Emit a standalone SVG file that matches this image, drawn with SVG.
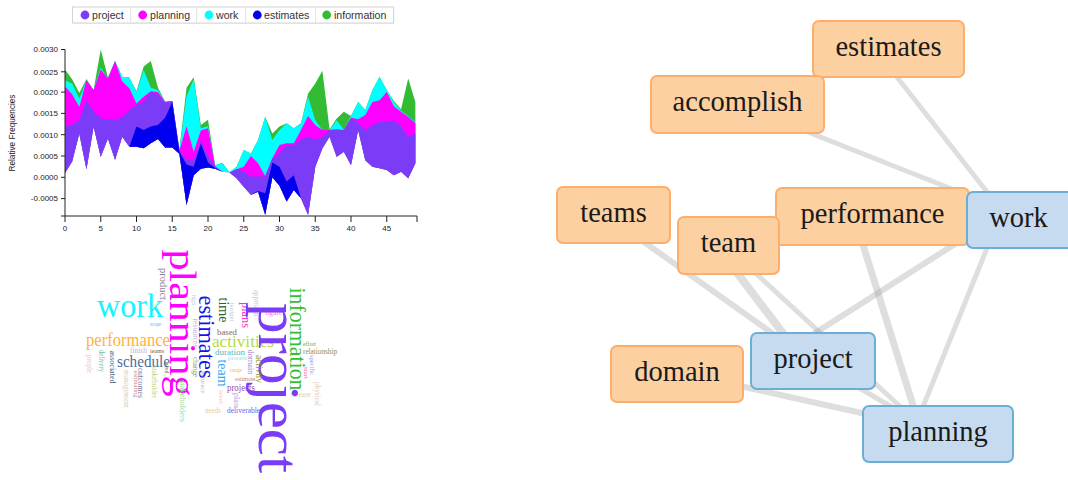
<svg xmlns="http://www.w3.org/2000/svg" width="1068" height="480" viewBox="0 0 1068 480">
<style>
.ax{stroke:#222;stroke-width:1;fill:none}
.tk{font-family:"Liberation Sans",Arial,sans-serif;font-size:8px;fill:#222}
.lg{font-family:"Liberation Sans",Arial,sans-serif;font-size:10.6px;fill:#333}
.wc text{font-family:"Liberation Serif","Times New Roman",serif}
.v{text-anchor:middle}
.edge{stroke:#999;stroke-opacity:0.32;fill:none;stroke-linecap:butt}
.on rect{fill:#fdd0a2;stroke:#fdae6b;stroke-width:2}
.bn rect{fill:#c6dbef;stroke:#6baed6;stroke-width:2}
.nl{font-family:"Liberation Serif","Times New Roman",serif;font-size:28.5px;fill:#1a1a1a;text-anchor:middle}
</style>
<rect width="1068" height="480" fill="#fff"/>

<!-- legend -->
<g id="legend">
<rect x="73.5" y="8" width="321" height="16" fill="#000" opacity="0.06"/>
<rect x="72.5" y="7" width="321" height="16" fill="#fff" stroke="#d4d4d4"/>
<path d="M130.7 7v16M196.7 7v16M245.7 7v16M315.7 7v16" stroke="#e2e2e2"/>
<circle cx="85" cy="15" r="4.4" fill="#7b3cf7"/><text class="lg" x="92" y="18.8">project</text>
<circle cx="142.7" cy="15" r="4.4" fill="#ff00ff"/><text class="lg" x="150" y="18.8">planning</text>
<circle cx="209" cy="15" r="4.4" fill="#00ffff"/><text class="lg" x="216" y="18.8">work</text>
<circle cx="257.3" cy="15" r="4.4" fill="#0000ee"/><text class="lg" x="264" y="18.8">estimates</text>
<circle cx="326.7" cy="15" r="4.4" fill="#33bb33"/><text class="lg" x="334" y="18.8">information</text>
</g>

<!-- streamgraph -->
<g id="streamgraph">
<g transform="translate(65,177.3) scale(7.15,-4.26)">
<path fill="#33bb33" d="M0,25.3 1,23 2,19.8 3,23.1 4,20.5 5,30 6,23.4 7,27.3 8,23.6 9,23.4 10,20.2 11,26 12,27.3 13,21 14,17.8 15,17.9 16,6.5 17,21 18,23.5 19,12.3 20,13.5 21,2.8 22,3.4 23,1.2 24,2.5 25,6.4 26,5.6 27,8.75 28,14.2 29,10.3 30,11.9 31,12.7 32,11.5 33,12.7 34,19.7 35,22 36,25 37,11.3 38,13.8 39,15.4 40,14.4 41,17.7 42,15.8 43,20.5 44,23.6 45,20.5 46,17.9 47,16 48,23.2 49,17.7 L49,3.3 48,-0.2 47,1.3 46,0.5 45,1.7 44,2.1 43,2.5 42,4 41,11.1 40,2.9 39,6 38,4.8 37,9.5 36,6.8 35,2.5 34,-8.8 33,-4.9 32,-3 31,-5.7 30,-2 29,0 28,-8.8 27,-3.4 26,-4.1 25,-2.2 24,-0.2 23,1.1 22,1.3 21,2 20,2.3 19,2 18,0.5 17,-6.5 16,5.5 15,7 14,7 13,9 12,8 11,6.8 10,7.2 9,7.2 8,9.5 7,4.1 6,9.1 5,4.8 4,11.9 3,1.9 2,10.3 1,3.7 0,1Z"/>
<path fill="#00ffff" d="M0,22.8 1,22 2,18.5 3,22.8 4,20.5 5,25.8 6,23.2 7,27.3 8,23.6 9,23.4 10,20 11,25.2 12,21 13,20.5 14,17.7 15,17.9 16,6.5 17,19 18,23 19,11.5 20,12 21,2.8 22,3.4 23,1.2 24,2.5 25,6.4 26,5.6 27,8.75 28,14.2 29,8.75 30,11.1 31,12.7 32,11.5 33,12.7 34,18.9 35,13.4 36,11.1 37,11.1 38,13.4 39,11.1 40,14.4 41,17.7 42,15.8 43,20.5 44,23.6 45,20.5 46,17.7 47,15.6 48,14.4 49,12.9 L49,3.3 48,-0.2 47,1.3 46,0.5 45,1.7 44,2.1 43,2.5 42,4 41,11.1 40,2.9 39,6 38,4.8 37,9.5 36,6.8 35,2.5 34,-8.8 33,-4.9 32,-3 31,-5.7 30,-2 29,0 28,-8.8 27,-3.4 26,-4.1 25,-2.2 24,-0.2 23,1.1 22,1.3 21,2 20,2.3 19,2 18,0.5 17,-6.5 16,5.5 15,7 14,7 13,9 12,8 11,6.8 10,7.2 9,7.2 8,9.5 7,4.1 6,9.1 5,4.8 4,11.9 3,1.9 2,10.3 1,3.7 0,1Z"/>
<path fill="#ff00ff" d="M0,21.3 1,19.5 2,16.5 3,22.8 4,20.5 5,25.3 6,23.2 7,27.3 8,22.5 9,20.9 10,17.3 11,18.9 12,20.2 13,20 14,17.7 15,17.9 16,6.3 17,12 18,6 19,11 20,11.5 21,2.6 22,1.3 23,1.1 24,1.9 25,2.5 26,5 27,3.3 28,0.3 29,4.5 30,7.6 31,8 32,8 33,11.1 34,14.4 35,12.3 36,11.1 37,11.1 38,11.25 39,11.1 40,14 41,13.6 42,14.6 43,17.7 44,18.1 45,20 46,16.6 47,15.4 48,14.2 49,12.7 L49,3.3 48,-0.2 47,1.3 46,0.5 45,1.7 44,2.1 43,2.5 42,4 41,11.1 40,2.9 39,6 38,4.8 37,9.5 36,6.8 35,2.5 34,-8.8 33,-4.9 32,-3 31,-5.7 30,-2 29,0 28,-8.8 27,-3.4 26,-4.1 25,-2.2 24,-0.2 23,1.1 22,1.3 21,2 20,2.3 19,2 18,0.5 17,-6.5 16,5.5 15,7 14,7 13,9 12,8 11,6.8 10,7.2 9,7.2 8,9.5 7,4.1 6,9.1 5,4.8 4,11.9 3,1.9 2,10.3 1,3.7 0,1Z"/>
<path fill="#7b3cf7" d="M0,11.9 1,12.3 2,13.4 3,18.1 4,15.4 5,13.8 6,13.6 7,13.4 8,14.1 9,15.8 10,17 11,17.7 12,20 13,19.5 14,17.5 15,17.9 16,6.3 17,4 18,4 19,8.5 20,5 21,2.5 22,1.3 23,1.1 24,1.9 25,1.3 26,0.2 27,0.2 28,0.2 29,4.5 30,5.6 31,7.6 32,7.6 33,8.75 34,9.5 35,8.75 36,9.5 37,11.1 38,11.25 39,11.1 40,13.8 41,12.7 42,11.1 43,12.3 44,13 45,13 46,13.4 47,11.9 48,9.5 49,10.3 L49,3.3 48,-0.2 47,1.3 46,0.5 45,1.7 44,2.1 43,2.5 42,4 41,11.1 40,2.9 39,6 38,4.8 37,9.5 36,6.8 35,2.5 34,-8.8 33,-4.9 32,-3 31,-5.7 30,-2 29,0 28,-8.8 27,-3.4 26,-4.1 25,-2.2 24,-0.2 23,1.1 22,1.3 21,2 20,2.3 19,2 18,0.5 17,-6.5 16,5.5 15,7 14,7 13,9 12,8 11,6.8 10,7.2 9,7.2 8,9.5 7,4.1 6,9.1 5,4.8 4,11.9 3,1.9 2,10.3 1,3.7 0,1Z"/>
<path fill="#0000ee" d="M9,7.2 10,11.9 11,11.1 12,11.9 13,12.3 14,14 15,17.7 16,6 17,3 18,2.5 19,8 20,3.5 21,2.2 22,1.3 23,1.1 24,-0.2 25,-2.2 26,-4.1 27,-3.2 28,-3.75 29,3.5 30,2.5 31,-1 32,0.5 33,-4.9 L32,-3 31,-5.7 30,-2 29,0 28,-8.8 27,-3.4 26,-4.1 25,-2.2 24,-0.2 23,1.1 22,1.3 21,2 20,2.3 19,2 18,0.5 17,-6.5 16,5.5 15,7 14,7 13,9 12,8 11,6.8 10,7.2Z"/>
</g>
<path class="ax" d="M61,49.5H65V216H61"/>
<path class="ax" d="M65,222V216H417V222"/>
<path class="ax" d="M61,71.8H65M61,92.1H65M61,113.4H65M61,134.7H65M61,156H65M61,177.3H65M61,198.6H65M100.75,216v6M136.5,216v6M172.25,216v6M208,216v6M243.75,216v6M279.5,216v6M315.25,216v6M351,216v6M386.75,216v6"/>
<g class="tk" text-anchor="end">
<text x="58" y="52.3">0.0030</text><text x="58" y="74.6">0.0025</text><text x="58" y="94.9">0.0020</text><text x="58" y="116.2">0.0015</text><text x="58" y="137.5">0.0010</text><text x="58" y="158.8">0.0005</text><text x="58" y="180.1">0.0000</text><text x="58" y="201.4">-0.0005</text>
</g>
<g class="tk" text-anchor="middle">
<text x="65" y="231">0</text><text x="100.75" y="231">5</text><text x="136.5" y="231">10</text><text x="172.25" y="231">15</text><text x="208" y="231">20</text><text x="243.75" y="231">25</text><text x="279.5" y="231">30</text><text x="315.25" y="231">35</text><text x="351" y="231">40</text><text x="386.75" y="231">45</text>
</g>
<text class="tk" style="font-size:8.2px" text-anchor="middle" transform="translate(15,133) rotate(-90)">Relative Frequencies</text>
</g>

<!-- word cloud -->
<g id="wordcloud" class="wc">
<text x="97" y="317" font-size="33" fill="#14f4fc" textLength="66" lengthAdjust="spacingAndGlyphs">work</text>
<text x="86" y="346" font-size="18" fill="#ffb23c" textLength="84" lengthAdjust="spacingAndGlyphs">performance</text>
<text x="117" y="367" font-size="16" fill="#4c6c9c" textLength="53" lengthAdjust="spacingAndGlyphs">schedule</text>
<text x="150" y="326" font-size="5.5" fill="#5cb4f4" textLength="11" lengthAdjust="spacingAndGlyphs">scope</text>
<text x="130" y="353" font-size="7.5" fill="#ccaadc" textLength="17" lengthAdjust="spacingAndGlyphs">finish</text>
<text x="150" y="353" font-size="6.5" fill="#7c5c2c" textLength="14" lengthAdjust="spacingAndGlyphs">teams</text>
<text x="176" y="360" font-size="6" fill="#c4bcb4" textLength="9" lengthAdjust="spacingAndGlyphs">cost</text>
<text x="217" y="335" font-size="9" fill="#8c6c3c" textLength="20" lengthAdjust="spacingAndGlyphs">based</text>
<text x="212" y="347" font-size="16" fill="#b4dc3c" textLength="62" lengthAdjust="spacingAndGlyphs">activities</text>
<text x="215" y="354.5" font-size="9" fill="#54b4bc" textLength="30" lengthAdjust="spacingAndGlyphs">duration</text>
<text x="228" y="360" font-size="6.5" fill="#84e4f4" textLength="19" lengthAdjust="spacingAndGlyphs">process</text>
<text x="230" y="372" font-size="6.5" fill="#ffb454" textLength="12" lengthAdjust="spacingAndGlyphs">range</text>
<text x="235" y="381" font-size="7" fill="#c48484" textLength="20" lengthAdjust="spacingAndGlyphs">estimate</text>
<text x="227" y="391" font-size="10" fill="#9c4cac" textLength="28" lengthAdjust="spacingAndGlyphs">projects</text>
<text x="205" y="413" font-size="7.5" fill="#ecca9c" textLength="16" lengthAdjust="spacingAndGlyphs">needs</text>
<text x="227" y="413" font-size="8" fill="#6464e4" textLength="36" lengthAdjust="spacingAndGlyphs">deliverables</text>
<text x="265" y="315" font-size="7.5" fill="#f474d4" textLength="17" lengthAdjust="spacingAndGlyphs">figure</text>
<text x="303" y="346" font-size="6.5" fill="#84a424" textLength="13" lengthAdjust="spacingAndGlyphs">effort</text>
<text x="303" y="354" font-size="7.5" fill="#8c8c54" textLength="34" lengthAdjust="spacingAndGlyphs">relationship</text>
<text x="291" y="397" font-size="7.5" fill="#e4cca4" textLength="20" lengthAdjust="spacingAndGlyphs">release</text>

<text class="v" transform="translate(170,323) rotate(90)" font-size="37" fill="#ff00ff" textLength="147" lengthAdjust="spacingAndGlyphs">planning</text>
<text class="v" transform="translate(160,284) rotate(90)" font-size="11" fill="#8a7a9a" textLength="32" lengthAdjust="spacingAndGlyphs">product</text>
<text class="v" transform="translate(192,300) rotate(90)" font-size="6" fill="#b8cde0" textLength="10" lengthAdjust="spacingAndGlyphs">high</text>
<text class="v" transform="translate(198.5,337) rotate(90)" font-size="23" fill="#1515ea" textLength="83" lengthAdjust="spacingAndGlyphs">estimates</text>
<text class="v" transform="translate(193,333) rotate(90)" font-size="7.7" fill="#c4b4d4" textLength="29" lengthAdjust="spacingAndGlyphs">resources</text>
<text class="v" transform="translate(87,364) rotate(90)" font-size="7.5" fill="#f4b8c8" textLength="18" lengthAdjust="spacingAndGlyphs">people</text>
<text class="v" transform="translate(98.5,361) rotate(90)" font-size="7.5" fill="#6cbcb4" textLength="22" lengthAdjust="spacingAndGlyphs">delivery</text>
<text class="v" transform="translate(110,367) rotate(90)" font-size="8.5" fill="#4c5c80" textLength="33" lengthAdjust="spacingAndGlyphs">associated</text>
<text class="v" transform="translate(138,383) rotate(90)" font-size="8.5" fill="#8474a4" textLength="30" lengthAdjust="spacingAndGlyphs">outcomes</text>
<text class="v" transform="translate(133.5,384) rotate(90)" font-size="7" fill="#d08a80" textLength="27" lengthAdjust="spacingAndGlyphs">estimating</text>
<text class="v" transform="translate(124,389) rotate(90)" font-size="7.5" fill="#d8d0b4" textLength="38" lengthAdjust="spacingAndGlyphs">management</text>
<text class="v" transform="translate(152,382) rotate(90)" font-size="7.3" fill="#c4d474" textLength="32" lengthAdjust="spacingAndGlyphs">stakeholder</text>
<text class="v" transform="translate(165,368) rotate(90)" font-size="6.5" fill="#8c6c48" textLength="11" lengthAdjust="spacingAndGlyphs">need</text>
<text class="v" transform="translate(192.5,367) rotate(90)" font-size="7.3" fill="#84a474" textLength="20" lengthAdjust="spacingAndGlyphs">change</text>
<text class="v" transform="translate(200.5,382) rotate(90)" font-size="7" fill="#bab4c4" textLength="23" lengthAdjust="spacingAndGlyphs">accuracy</text>
<text class="v" transform="translate(179.5,401) rotate(90)" font-size="8.6" fill="#96dc96" textLength="42" lengthAdjust="spacingAndGlyphs">stakeholders</text>
<text class="v" transform="translate(254,303) rotate(90)" font-size="7.5" fill="#dccab4" textLength="27" lengthAdjust="spacingAndGlyphs">approach</text>
<text class="v" transform="translate(229.5,312) rotate(90)" font-size="7" fill="#b4cce0" textLength="19" lengthAdjust="spacingAndGlyphs">budget</text>
<text class="v" transform="translate(219,310) rotate(90)" font-size="15" fill="#2e5e34" textLength="25" lengthAdjust="spacingAndGlyphs">time</text>
<text class="v" transform="translate(241.5,315) rotate(90)" font-size="13" fill="#ff2ec4" textLength="26" lengthAdjust="spacingAndGlyphs">plans</text>
<text class="v" transform="translate(259,388) rotate(90)" font-size="59" fill="#7b3cf7" textLength="170" lengthAdjust="spacingAndGlyphs">project</text>
<text class="v" transform="translate(247.5,362) rotate(90)" font-size="8.5" fill="#a878c8" textLength="25" lengthAdjust="spacingAndGlyphs">domain</text>
<text class="v" transform="translate(255.5,369) rotate(90)" font-size="9.5" fill="#949444" textLength="28" lengthAdjust="spacingAndGlyphs">activity</text>
<text class="v" transform="translate(217.5,373) rotate(90)" font-size="14" fill="#35a5f5" textLength="27" lengthAdjust="spacingAndGlyphs">team</text>
<text class="v" transform="translate(218.5,397) rotate(90)" font-size="7" fill="#f4bccc" textLength="14" lengthAdjust="spacingAndGlyphs">level</text>
<text class="v" transform="translate(234,400) rotate(90)" font-size="7.5" fill="#bca4dc" textLength="14" lengthAdjust="spacingAndGlyphs">plan</text>
<text class="v" transform="translate(290,339) rotate(90)" font-size="23" fill="#33c033" textLength="103" lengthAdjust="spacingAndGlyphs">information</text>
<text class="v" transform="translate(310,365) rotate(90)" font-size="6.8" fill="#9494f4" textLength="20" lengthAdjust="spacingAndGlyphs">specific</text>
<text class="v" transform="translate(303.5,373) rotate(90)" font-size="7" fill="#ff64a4" textLength="12" lengthAdjust="spacingAndGlyphs">start</text>
<text class="v" transform="translate(315,394) rotate(90)" font-size="7.5" fill="#dccab8" textLength="24" lengthAdjust="spacingAndGlyphs">physical</text>
</g>

<!-- connectors -->
<g id="connectors">
<line class="edge" x1="875" y1="49" x2="1009" y2="220" stroke-width="5"/>
<line class="edge" x1="737" y1="104" x2="1010" y2="212" stroke-width="5"/>
<line class="edge" x1="613" y1="220" x2="800" y2="353" stroke-width="6"/>
<line class="edge" x1="716" y1="245" x2="804" y2="361" stroke-width="8"/>
<line class="edge" x1="725" y1="245" x2="930" y2="434" stroke-width="5"/>
<line class="edge" x1="1010" y1="209" x2="790" y2="349" stroke-width="6"/>
<line class="edge" x1="854" y1="216" x2="922" y2="434" stroke-width="7"/>
<line class="edge" x1="1000" y1="216" x2="912" y2="434" stroke-width="5"/>
<line class="edge" x1="677" y1="372" x2="938" y2="430" stroke-width="6"/>
<line class="edge" x1="813" y1="361" x2="938" y2="434" stroke-width="5"/>
</g>

<!-- nodes -->
<g id="node-estimates" class="on"><rect x="813" y="21" width="151" height="56" rx="6"/><text class="nl" x="888.5" y="55.5">estimates</text></g>
<g id="node-accomplish" class="on"><rect x="651" y="76" width="173" height="57" rx="6"/><text class="nl" x="737.5" y="111">accomplish</text></g>
<g id="node-teams" class="on"><rect x="557" y="187" width="113" height="56" rx="6"/><text class="nl" x="613.5" y="221.5">teams</text></g>
<g id="node-performance" class="on"><rect x="776" y="188" width="193" height="57" rx="6"/><text class="nl" x="872.5" y="223">performance</text></g>
<g id="node-team" class="on"><rect x="678" y="217" width="101" height="57" rx="6"/><text class="nl" x="728.5" y="252">team</text></g>
<g id="node-work" class="bn"><rect x="967" y="192" width="110" height="56" rx="6"/><text class="nl" x="1018.5" y="226.5">work</text></g>
<g id="node-domain" class="on"><rect x="611" y="346" width="132" height="56" rx="6"/><text class="nl" x="677" y="380.5">domain</text></g>
<g id="node-project" class="bn"><rect x="751" y="333" width="124" height="56" rx="6"/><text class="nl" x="813" y="367.5">project</text></g>
<g id="node-planning" class="bn"><rect x="863" y="406" width="150" height="56" rx="6"/><text class="nl" x="938" y="440.5">planning</text></g>
</svg>
